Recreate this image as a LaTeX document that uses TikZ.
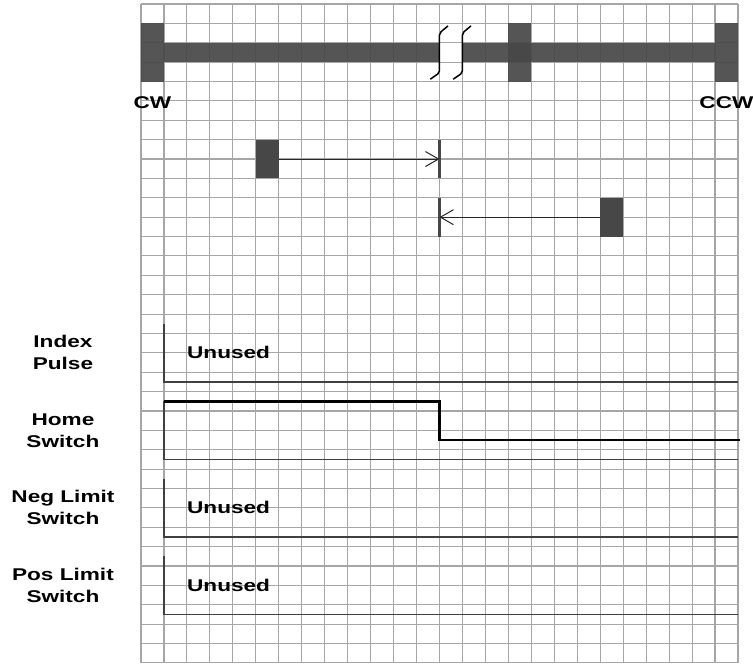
\documentclass[tikz,border=0pt]{standalone}
\usepackage{fontspec}
\newfontfamily\lblfont{Liberation Sans}[FakeStretch=1.33]
\usetikzlibrary{arrows.meta,positioning}

\begin{document}
\begin{tikzpicture}[x=22.96pt, y=-19.38pt]
    % Define styles
    \tikzstyle{gridline} = [draw, black!35, line width=1.1pt]
    \tikzstyle{endblock} = [rectangle, fill=black!72, minimum width=22.96pt, minimum height=58.14pt, inner sep=0pt]
    \tikzstyle{startblock} = [rectangle, fill=black!72, minimum width=22.96pt, minimum height=38.76pt, inner sep=0pt]
    \tikzstyle{stopline} = [draw, black!72, line width=2.5pt]
    \tikzstyle{line} = [draw, black!85, line width=1pt, -{Straight Barb[length=13pt, width=15pt]}]
    \tikzstyle{txt} = [font=\lblfont\fontsize{17}{22}\selectfont\bfseries, align=center, inner sep=0pt]
    \tikzstyle{sigframe} = [draw, black!75, line width=1.2pt]
    \tikzstyle{siglevel} = [draw, black, line width=2.6pt]

    \useasboundingbox (-6.141,-0.206) rectangle (26.655,34.107);

    % Grid
    \foreach \i in {0,...,26} \draw[gridline] (\i,0) -- (\i,34);
    \foreach \j in {0,...,34} \draw[gridline] (0,\j) -- (26,\j);

    % Travel range
    \fill[black!72, fill opacity=0.92] (1,2) rectangle (13,3);
    \fill[black!72, fill opacity=0.92] (14,2) rectangle (25,3);
    \node[endblock, fill opacity=0.92] (cw) at (0.5,2.5) {};
    \node[endblock, fill opacity=0.92] (mid) at (16.5,2.5) {};
    \node[endblock, fill opacity=0.92] (ccw) at (25.5,2.5) {};
    \node[txt, below=15pt of cw] (cwlabel) {CW};
    \node[txt, below=15pt of ccw] (ccwlabel) {CCW};
    \foreach \c in {13,14}
        \draw[black, line width=1.5pt, rounded corners=2pt] (\c-0.4,3.88) -- (\c,3.55) -- (\c,1.5) -- (\c+0.37,1.13);

    % Moves to home
    \node[startblock] (move1) at (5.5,8) {};
    \node[startblock] (move2) at (20.5,11) {};
    \coordinate (home1) at (13,8);
    \coordinate (home2) at (13,11);
    \draw[stopline] (13,7) -- (13,9);
    \draw[stopline] (13,10) -- (13,12);
    \path [line] (move1) -- (home1);
    \path [line] (move2) -- (home2);

    % Index pulse
    \node[txt] (index) at (-3.4,18) {Index\\Pulse};
    \path[sigframe] (1,16.5) -- (1,19.5) -- (26,19.5);
    \node[txt, anchor=west] (indexnote) at (2,18) {Unused};

    % Home switch
    \node[txt] (home) at (-3.4,22) {Home\\Switch};
    \path[sigframe] (1,20.5) -- (1,23.5) -- (26,23.5);
    \path[siglevel] (1,20.5) -- (13,20.5) -- (13,22.5) -- (26.1,22.5);

    % Neg limit switch
    \node[txt] (neg) at (-3.4,26) {Neg Limit\\Switch};
    \path[sigframe] (1,24.5) -- (1,27.5) -- (26,27.5);
    \node[txt, anchor=west] (negnote) at (2,26) {Unused};

    % Pos limit switch
    \node[txt] (pos) at (-3.4,30) {Pos Limit\\Switch};
    \path[sigframe] (1,28.5) -- (1,31.5) -- (26,31.5);
    \node[txt, anchor=west] (posnote) at (2,30) {Unused};
\end{tikzpicture}
\end{document}
